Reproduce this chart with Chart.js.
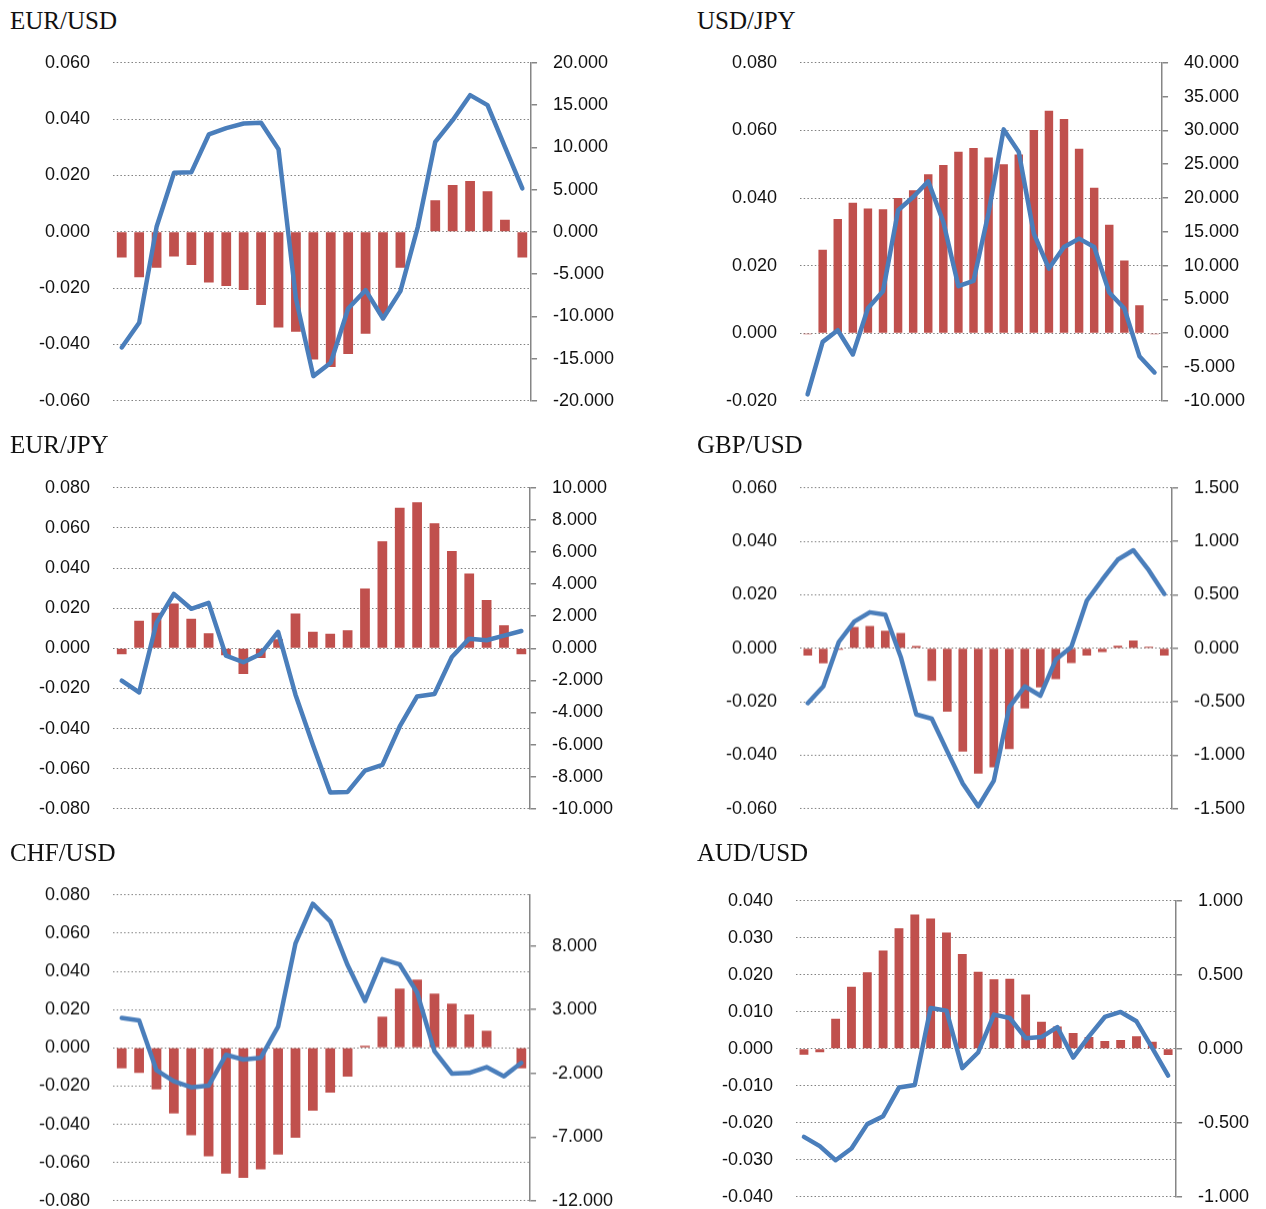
<!DOCTYPE html>
<html>
<head>
<meta charset="utf-8">
<script src="https://cdn.jsdelivr.net/npm/chart.js@4/dist/chart.umd.min.js"></script>
<style>
  html, body { margin: 0; padding: 0; background: #ffffff; }
  body { width: 1266px; height: 1209px; position: relative; overflow: hidden; }
  .title { position: absolute; font-family: "Liberation Serif", "Times New Roman", serif; font-size: 25px; line-height: 25px; color: #111; white-space: nowrap; }
  .box { position: absolute; }
</style>
</head>
<body>
<script>
// 24 periods shared by all six panels
const periods = [1, 2, 3, 4, 5, 6, 7, 8, 9, 10, 11, 12, 13, 14, 15, 16, 17, 18, 19, 20, 21, 22, 23, 24];

// EUR/USD
const eurUsdBars = [-0.0091, -0.0161, -0.0128, -0.0088, -0.0118, -0.0180, -0.0192, -0.0207, -0.0260, -0.0340, -0.0355, -0.0453, -0.0480, -0.0434, -0.0362, -0.0295, -0.0128, 0.0000, 0.0112, 0.0166, 0.0180, 0.0144, 0.0043, -0.0091];
const eurUsdLine = [-13.69, -10.77, 0.59, 6.98, 7.06, 11.52, 12.27, 12.82, 12.90, 9.78, -7.89, -17.08, -15.50, -9.07, -6.90, -10.26, -7.02, 0.59, 10.65, 13.21, 16.17, 14.99, 10.06, 5.13];
const eurUsdLeftTicks = [-0.06, -0.04, -0.02, 0, 0.02, 0.04, 0.06];
const eurUsdRightTicks = [-20, -15, -10, -5, 0, 5, 10, 15, 20];

// USD/JPY
const usdJpyBars = [-0.0003, 0.0247, 0.0338, 0.0386, 0.0369, 0.0367, 0.0400, 0.0423, 0.0470, 0.0498, 0.0537, 0.0548, 0.0520, 0.0500, 0.0529, 0.0601, 0.0658, 0.0634, 0.0546, 0.0430, 0.0321, 0.0215, 0.0083, -0.0003];
const usdJpyLine = [-9.06, -1.28, 0.44, -3.15, 3.69, 6.21, 18.18, 20.15, 22.46, 16.45, 6.95, 7.73, 17.83, 30.15, 26.80, 14.73, 9.56, 12.76, 13.99, 12.76, 6.01, 3.65, -3.40, -5.81];
const usdJpyLeftTicks = [-0.02, 0, 0.02, 0.04, 0.06, 0.08];
const usdJpyRightTicks = [-10, -5, 0, 5, 10, 15, 20, 25, 30, 35, 40];

// EUR/JPY
const eurJpyBars = [-0.0030, 0.0137, 0.0177, 0.0223, 0.0147, 0.0075, -0.0035, -0.0128, -0.0048, 0.0045, 0.0173, 0.0083, 0.0073, 0.0090, 0.0298, 0.0533, 0.0701, 0.0728, 0.0623, 0.0485, 0.0373, 0.0241, 0.0115, -0.0030];
const eurJpyLine = [-2.02, -2.75, 1.58, 3.39, 2.46, 2.83, -0.46, -0.87, -0.35, 1.02, -2.89, -6.01, -8.99, -8.95, -7.62, -7.26, -4.87, -3.00, -2.85, -0.54, 0.60, 0.50, 0.79, 1.08];
const eurJpyLeftTicks = [-0.08, -0.06, -0.04, -0.02, 0, 0.02, 0.04, 0.06, 0.08];
const eurJpyRightTicks = [-10, -8, -6, -4, -2, 0, 2, 4, 6, 8, 10];

// GBP/USD
const gbpUsdBars = [-0.0027, -0.0056, -0.0005, 0.0080, 0.0084, 0.0066, 0.0057, 0.0009, -0.0122, -0.0237, -0.0386, -0.0469, -0.0445, -0.0377, -0.0225, -0.0146, -0.0115, -0.0055, -0.0027, -0.0014, 0.0010, 0.0029, 0.0006, -0.0027];
const gbpUsdLine = [-0.512, -0.356, 0.059, 0.250, 0.337, 0.315, -0.081, -0.618, -0.658, -0.964, -1.266, -1.478, -1.238, -0.549, -0.356, -0.443, -0.106, 0.012, 0.446, 0.643, 0.830, 0.917, 0.730, 0.508];
const gbpUsdLeftTicks = [-0.06, -0.04, -0.02, 0, 0.02, 0.04, 0.06];
const gbpUsdRightTicks = [-1.5, -1.0, -0.5, 0, 0.5, 1.0, 1.5];

// CHF/USD
const chfUsdBars = [-0.0107, -0.0131, -0.0217, -0.0343, -0.0457, -0.0567, -0.0658, -0.0680, -0.0636, -0.0559, -0.0471, -0.0329, -0.0235, -0.0151, 0.0011, 0.0163, 0.0310, 0.0357, 0.0284, 0.0231, 0.0175, 0.0089, -0.0003, -0.0107];
const chfUsdLine = [2.34, 2.15, -1.76, -2.63, -3.10, -2.97, -0.55, -0.92, -0.79, 1.66, 8.20, 11.30, 9.93, 6.49, 3.68, 6.96, 6.54, 4.34, -0.26, -2.02, -1.97, -1.52, -2.23, -1.18];
const chfUsdLeftTicks = [-0.08, -0.06, -0.04, -0.02, 0, 0.02, 0.04, 0.06, 0.08];
const chfUsdRightTicks = [-12, -7, -2, 3, 8];

// AUD/USD
const audUsdBars = [-0.0016, -0.0009, 0.0081, 0.0168, 0.0207, 0.0266, 0.0326, 0.0363, 0.0352, 0.0314, 0.0256, 0.0208, 0.0188, 0.0189, 0.0147, 0.0073, 0.0060, 0.0043, 0.0032, 0.0021, 0.0024, 0.0034, 0.0019, -0.0017];
const audUsdLine = [-0.595, -0.658, -0.753, -0.674, -0.509, -0.455, -0.262, -0.244, 0.276, 0.258, -0.131, -0.025, 0.231, 0.208, 0.072, 0.079, 0.147, -0.059, 0.084, 0.215, 0.249, 0.186, 0.005, -0.181];
const audUsdLeftTicks = [-0.04, -0.03, -0.02, -0.01, 0, 0.01, 0.02, 0.03, 0.04];
const audUsdRightTicks = [-1.0, -0.5, 0, 0.5, 1.0];

const BAR_RED = '#c0504d';
const LINE_BLUE = '#4a7ebb';
const AXIS_GRAY = '#868686';
const GRID_GRAY = '#808080';
const LABEL_FONT = { family: '"Liberation Sans", Arial, sans-serif', size: 18 };

// Panel layout: plot rectangle (page pixels) and title origin
const panels = [
  { title: 'EUR/USD', tx: 10,  ty: 8,   plot: { l: 113, r: 531, t: 62.5, b: 400 },  bars: eurUsdBars, line: eurUsdLine, left: eurUsdLeftTicks, right: eurUsdRightTicks, rmin: -20, rmax: 20 },
  { title: 'USD/JPY', tx: 697, ty: 8,   plot: { l: 800, r: 1162, t: 62.5, b: 400 }, bars: usdJpyBars, line: usdJpyLine, left: usdJpyLeftTicks, right: usdJpyRightTicks, rmin: -10, rmax: 40 },
  { title: 'EUR/JPY', tx: 10,  ty: 432, plot: { l: 113, r: 530, t: 487.5, b: 808 }, bars: eurJpyBars, line: eurJpyLine, left: eurJpyLeftTicks, right: eurJpyRightTicks, rmin: -10, rmax: 10 },
  { title: 'GBP/USD', tx: 697, ty: 432, plot: { l: 800, r: 1172, t: 488, b: 808 },  bars: gbpUsdBars, line: gbpUsdLine, left: gbpUsdLeftTicks, right: gbpUsdRightTicks, rmin: -1.5, rmax: 1.5 },
  { title: 'CHF/USD', tx: 10,  ty: 840, plot: { l: 113, r: 530, t: 895, b: 1200 },  bars: chfUsdBars, line: chfUsdLine, left: chfUsdLeftTicks, right: chfUsdRightTicks, rmin: -12, rmax: 12 },
  { title: 'AUD/USD', tx: 697, ty: 840, plot: { l: 796, r: 1176, t: 900.5, b: 1196 }, bars: audUsdBars, line: audUsdLine, left: audUsdLeftTicks, right: audUsdRightTicks, rmin: -1, rmax: 1 }
];

function fixedTicks(values) {
  return function (scale) { scale.ticks = values.map(v => ({ value: v })); };
}

function buildPanel(p) {
  const title = document.createElement('div');
  title.className = 'title';
  title.textContent = p.title;
  title.style.left = p.tx + 'px';
  title.style.top = p.ty + 'px';
  document.body.appendChild(title);

  const box = document.createElement('div');
  box.className = 'box';
  box.style.left = '0px';
  box.style.top = '0px';
  box.style.width = (p.plot.r - p.plot.l + 200) + 'px';
  box.style.height = (p.plot.b - p.plot.t + 30) + 'px';
  const canvas = document.createElement('canvas');
  box.appendChild(canvas);
  document.body.appendChild(box);

  const chart = new Chart(canvas, {
    type: 'bar',
    data: {
      labels: periods,
      datasets: [
        {
          type: 'line',
          data: p.line,
          yAxisID: 'y1',
          borderColor: LINE_BLUE,
          borderWidth: 4.5,
          pointRadius: 0,
          tension: 0,
          borderJoinStyle: 'round',
          borderCapStyle: 'round',
          fill: false,
          order: 1
        },
        {
          type: 'bar',
          data: p.bars,
          yAxisID: 'y',
          backgroundColor: BAR_RED,
          borderWidth: 0,
          barPercentage: 0.56,
          categoryPercentage: 1.0,
          order: 2
        }
      ]
    },
    options: {
      responsive: true,
      maintainAspectRatio: false,
      animation: false,
      events: [],
      layout: { padding: { top: 14, bottom: 14, left: 0, right: 0 } },
      plugins: { legend: { display: false }, tooltip: { enabled: false }, title: { display: false } },
      scales: {
        x: { type: 'category', display: false, offset: true },
        y: {
          position: 'left',
          min: p.left[0],
          max: p.left[p.left.length - 1],
          afterBuildTicks: fixedTicks(p.left),
          grid: { drawTicks: false, color: GRID_GRAY, lineWidth: 1 },
          border: { display: false, dash: [1.5, 2.2] },
          ticks: { padding: 23, color: '#111111', font: LABEL_FONT, callback: v => Number(v).toFixed(3) }
        },
        y1: {
          position: 'right',
          min: p.rmin,
          max: p.rmax,
          afterBuildTicks: fixedTicks(p.right),
          grid: { drawOnChartArea: false, drawTicks: true, tickLength: 6, color: AXIS_GRAY, lineWidth: 1.5 },
          border: { display: true, color: AXIS_GRAY, width: 1.5 },
          ticks: { padding: 16, color: '#111111', font: LABEL_FONT, callback: v => Number(v).toFixed(3) }
        }
      }
    }
  });

  // size and move the canvas so the plot area sits on the panel rectangle
  const a = chart.chartArea;
  const w = box.clientWidth + (p.plot.r - p.plot.l) - (a.right - a.left);
  const h = box.clientHeight + (p.plot.b - p.plot.t) - (a.bottom - a.top);
  box.style.width = w + 'px';
  box.style.height = h + 'px';
  chart.resize();
  const c = chart.chartArea;
  box.style.left = (p.plot.l - c.left) + 'px';
  box.style.top = (p.plot.t - c.top) + 'px';
}

panels.forEach(buildPanel);
</script>
</body>
</html>
